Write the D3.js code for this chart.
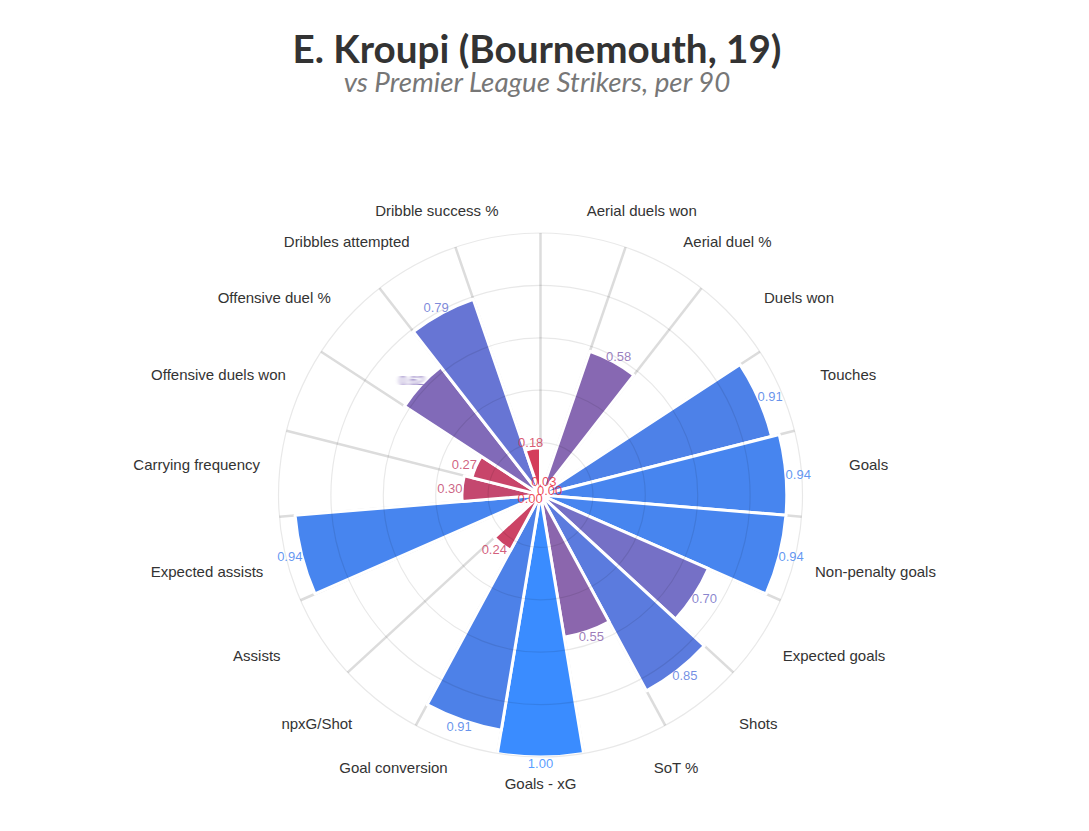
<!DOCTYPE html>
<html>
<head>
<meta charset="utf-8">
<script src="https://cdn.jsdelivr.net/npm/d3@7"></script>
<style>
  body { margin: 0; background: #fff; }
  svg text { font-family: "Liberation Sans", Arial, sans-serif; }
</style>
</head>
<body>
<svg id="chart" width="1089" height="831"></svg>
<script>
// metrics, clockwise from 12 o'clock
let categories = ["Aerial duels won", "Aerial duel %", "Duels won", "Touches", "Goals",
  "Non-penalty goals", "Expected goals", "Shots", "SoT %", "Goals - xG",
  "Goal conversion", "npxG/Shot", "Assists", "Expected assists", "Carrying frequency",
  "Offensive duels won", "Offensive duel %", "Dribbles attempted", "Dribble success %"];
// percentile ranks (0-1)
let percentiles = [0.03, 0.58, 0.00, 0.91, 0.94,
  0.94, 0.70, 0.85, 0.55, 1.00,
  0.91, 0.24, 0.00, 0.94, 0.30,
  0.27, 0.62, 0.79, 0.18];
let gridLevels = [0.2, 0.4, 0.6, 0.8, 1.0];
let smeared = ["Offensive duel %"]; // value label comes out smeared in the original

let title = "E. Kroupi (Bournemouth, 19)";
let subtitle = "vs Premier League Strikers, per 90";

let cx = 540.5, cy = 495, radius = 262;

let svg = d3.select("#chart");
let defs = svg.append("defs");
defs.append("filter").attr("id", "smear")
  .attr("x", "-30%").attr("width", "160%")
  .append("feGaussianBlur").attr("stdDeviation", "2 0.4");

let angle = d3.scaleBand().domain(categories).range([0, 2 * Math.PI]);
let bw = angle.bandwidth();
let r = d3.scaleLinear().domain([0, 1]).range([0, radius]);
let color = d3.scaleLinear()
  .domain([0, 0.3, 0.55, 0.8, 0.92, 1])
  .range(["#ec2d3c", "#c4486f", "#8b66ad", "#6676d6", "#4b82ea", "#3a8cff"]);

let data = categories.map((c, i) => ({ name: c, value: percentiles[i] }));

// polar -> cartesian (0 rad = 12 o'clock, clockwise)
function px(a, rr) { return cx + rr * Math.sin(a); }
function py(a, rr) { return cy - rr * Math.cos(a); }
function mid(d) { return angle(d.name) + bw / 2; }

// fit a text element to a target width
function fitText(sel, target) {
  let w = sel.node().getComputedTextLength();
  let fs = parseFloat(sel.attr("font-size"));
  sel.attr("font-size", fs * target / w);
}

// title
fitText(svg.append("text")
  .attr("x", 537).attr("y", 63)
  .attr("text-anchor", "middle")
  .attr("font-size", 40)
  .attr("font-weight", "bold")
  .style("font-family", "Lato, 'Open Sans', sans-serif")
  .attr("fill", "#333")
  .text(title), 489);

fitText(svg.append("text")
  .attr("x", 537).attr("y", 92)
  .attr("text-anchor", "middle")
  .attr("font-size", 28)
  .attr("font-style", "italic")
  .style("font-family", "Lato, 'Open Sans', sans-serif")
  .attr("fill", "#777")
  .text(subtitle), 387);

let g = svg.append("g");

// spokes on the category boundaries
g.selectAll("line.spoke")
  .data(categories)
  .join("line")
  .attr("class", "spoke")
  .attr("x1", cx).attr("y1", cy)
  .attr("x2", c => px(angle(c), radius))
  .attr("y2", c => py(angle(c), radius))
  .attr("stroke", "#dcdcdc")
  .attr("stroke-width", 2.5);

// bars
let arc = d3.arc()
  .innerRadius(0)
  .outerRadius(d => r(d.value))
  .startAngle(d => angle(d.name))
  .endAngle(d => angle(d.name) + bw);

g.selectAll("path.bar")
  .data(data)
  .join("path")
  .attr("class", "bar")
  .attr("transform", `translate(${cx},${cy})`)
  .attr("d", arc)
  .attr("fill", d => color(d.value))
  .attr("stroke", "#fff")
  .attr("stroke-width", 3)
  .attr("stroke-linejoin", "round");

// rings drawn over the bars, faintly
g.selectAll("circle.ring")
  .data(gridLevels)
  .join("circle")
  .attr("class", "ring")
  .attr("cx", cx).attr("cy", cy)
  .attr("r", d => r(d))
  .attr("fill", "none")
  .attr("stroke", "rgba(0,0,0,0.09)")
  .attr("stroke-width", 1.2);

// value labels at the end of each bar
g.selectAll("text.val")
  .data(data)
  .join("text")
  .attr("class", "val")
  .attr("font-size", 13)
  .attr("text-anchor", "middle")
  .attr("dominant-baseline", "central")
  .attr("fill", d => color(d.value))
  .attr("fill-opacity", d => smeared.includes(d.name) ? 1 : 0.85)
  .attr("filter", d => smeared.includes(d.name) ? "url(#smear)" : null)
  .text(d => d3.format(".2f")(d.value))
  .each(function(d) {
    let a = mid(d), rr = r(d.value) + 6;
    let w = this.getComputedTextLength();
    d3.select(this)
      .attr("x", px(a, rr) + Math.sin(a) * w * 0.25)
      .attr("y", py(a, rr));
  });

// category labels around the outside
g.selectAll("text.cat")
  .data(data)
  .join("text")
  .attr("class", "cat")
  .attr("font-size", 15)
  .attr("fill", "#333")
  .attr("text-anchor", "middle")
  .attr("dominant-baseline", "central")
  .text(d => d.name)
  .each(function(d) {
    let a = mid(d), rr = radius + 26;
    let w = this.getComputedTextLength();
    let sn = Math.sin(a), cs = Math.cos(a);
    let s = Math.abs(sn) < 0.01 ? 0 : Math.sign(sn);
    // labels near the horizontal are pushed a little away from it
    let dy = -Math.sign(cs) * 7 * Math.pow(sn, 4);
    d3.select(this)
      .attr("x", px(a, rr) + s * (34 + 0.18 * w))
      .attr("y", py(a, rr) + dy);
  });
</script>
</body>
</html>
